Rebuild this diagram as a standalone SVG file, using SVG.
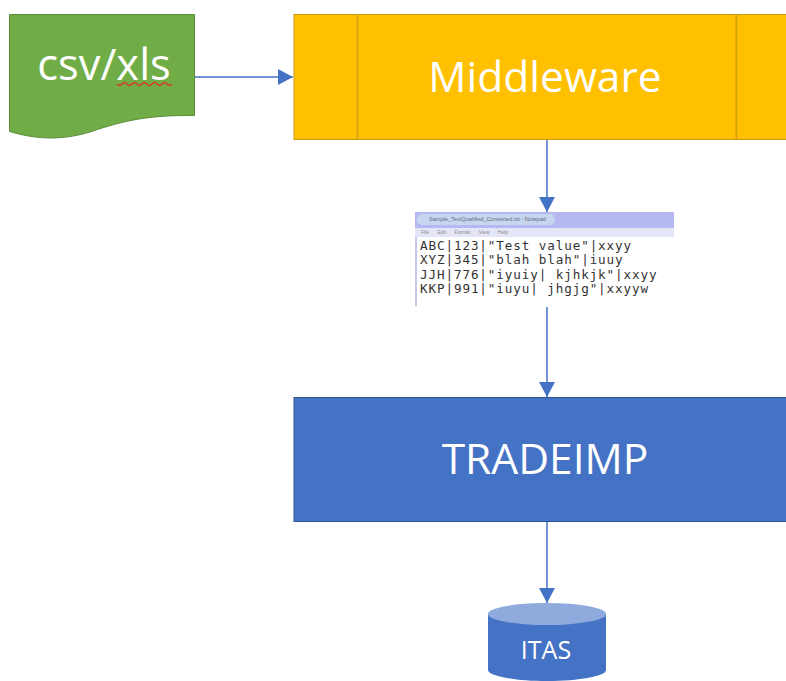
<svg xmlns="http://www.w3.org/2000/svg" width="786" height="681" viewBox="0 0 786 681">
<style>
.lbl{font-family:"Open Sans","Noto Sans",sans-serif;fill:#fff;text-anchor:middle}
.con{stroke:#4472c4;stroke-width:1.5;fill:none;marker-end:url(#arr)}
.mono{font-family:"DejaVu Sans Mono","Liberation Mono",monospace;font-size:12.6px;letter-spacing:.9px;fill:#333}
.menu{font-family:"Liberation Sans",sans-serif;font-size:5px;fill:#888;word-spacing:7px}
</style>
<defs>
<marker id="arr" markerUnits="userSpaceOnUse" markerWidth="15" markerHeight="16" refX="15" refY="8" orient="auto"><path d="M0 0L15 8L0 16Z" fill="#4472c4"/></marker>
</defs>
<rect width="786" height="681" fill="#fff"/>
<g id="connectors">
<path class="con" d="M195 77H293"/>
<path class="con" d="M547 140V212"/>
<path class="con" d="M547 307V397"/>
<path class="con" d="M547 522V603"/>
</g>
<g id="csv-xls">
<path d="M9.500 14.500H194.500V115.500C150 115 125 120 90 132C60 141 35 139 9.500 131.500Z" fill="#70ad47" stroke="#5b8c3a"/>
<text class="lbl" x="104" y="80" font-size="43.500">csv/xls</text>
<path d="M117 84q2.500 3 5 0t5 0t5 0t5 0t5 0t5 0t5 0t5 0t5 0t5 0t5 0" fill="none" stroke="#d8392b" stroke-width="1.500"/>
</g>
<g id="middleware">
<rect x="294" y="14.500" width="500" height="125" fill="#ffc000" stroke="#c79a12"/>
<path d="M357.500 14.500V139.500M736.500 14.500V139.500" stroke="#d9a40c" stroke-width="2" fill="none"/>
<text class="lbl" x="545" y="92" font-size="42.500">Middleware</text>
</g>
<g id="notepad">
<rect x="415" y="212" width="259" height="95" fill="#fff"/>
<rect x="415" y="212" width="259" height="16" fill="#b6b8f2"/>
<rect x="417" y="214" width="138" height="11" rx="5" fill="#c6d6f0"/>
<text x="429" y="221" font-family="Liberation Sans,sans-serif" font-size="5.600" fill="#667">Sample_TextQualified_Converted.txt - Notepad</text>
<rect x="415" y="228" width="259" height="9" fill="#e4e6f8"/>
<text class="menu" x="421" y="234">File Edit Format View Help</text>
<rect x="415" y="237" width="2" height="69" fill="#c4c6ee"/>
<text class="mono" x="420" y="250">ABC|123|"Test value"|xxyy</text>
<text class="mono" x="420" y="264">XYZ|345|"blah blah"|iuuy</text>
<text class="mono" x="420" y="279">JJH|776|"iyuiy| kjhkjk"|xxyy</text>
<text class="mono" x="420" y="293">KKP|991|"iuyu| jhgjg"|xxyyw</text>
</g>
<g id="tradeimp">
<rect x="294" y="397.500" width="500" height="124" fill="#4472c4" stroke="#2f528f"/>
<text class="lbl" x="545" y="474" font-size="42.500">TRADEIMP</text>
</g>
<g id="itas">
<path d="M488 614V670C488 676 515 681 547 681S606 676 606 670V614Z" fill="#4472c4"/>
<ellipse cx="547" cy="614" rx="59" ry="11" fill="#8faadc"/>
<text class="lbl" x="546" y="659" font-size="25">ITAS</text>
</g>
</svg>
